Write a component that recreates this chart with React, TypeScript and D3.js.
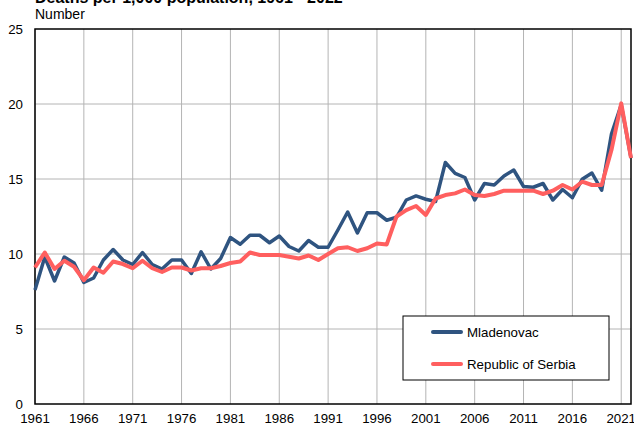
import React from "react";
import * as d3 from "d3";

const years: number[] = d3.range(1961, 2023);
const mladenovac: number[] = [
  7.6, 9.8, 8.2, 9.8, 9.4, 8.1, 8.4, 9.6, 10.3, 9.6,
  9.3, 10.1, 9.3, 9.0, 9.6, 9.6, 8.7, 10.15, 9.0, 9.7,
  11.1, 10.65, 11.25, 11.25, 10.75, 11.2, 10.5, 10.2, 10.9, 10.45,
  10.45, 11.6, 12.8, 11.4, 12.75, 12.75, 12.25, 12.45, 13.6, 13.87,
  13.65, 13.5, 16.1, 15.38, 15.1, 13.6, 14.7, 14.6, 15.2, 15.6,
  14.5, 14.45, 14.7, 13.6, 14.3, 13.75, 14.98, 15.4, 14.25, 18.0,
  19.95, 16.4,
];
const serbia: number[] = [
  9.1, 10.1, 9.0, 9.55, 9.15, 8.25, 9.1, 8.75, 9.5, 9.33,
  9.05, 9.55, 9.05, 8.8, 9.1, 9.1, 8.9, 9.05, 9.05, 9.2,
  9.4, 9.5, 10.1, 9.93, 9.93, 9.93, 9.82, 9.7, 9.9, 9.6,
  10.0, 10.38, 10.45, 10.2, 10.38, 10.7, 10.64, 12.5, 12.93, 13.2,
  12.6, 13.7, 13.93, 14.04, 14.3, 13.93, 13.87, 14.0, 14.22, 14.22,
  14.22, 14.22, 14.0, 14.22, 14.6, 14.3, 14.82, 14.6, 14.6, 16.93,
  20.04, 16.4,
];
const xTicks: number[] = d3.range(1961, 2022, 5);
const yTicks: number[] = [0, 5, 10, 15, 20, 25];
const seriesNames: string[] = ["Mladenovac", "Republic of Serbia"];
const seriesColors: string[] = ["#2f5480", "#ff5f5f"];

const W = 634;
const H = 428;
const M = { left: 35, right: 3, top: 29, bottom: 24 };
const FONT = "'Liberation Sans', Arial, sans-serif";

export default function App() {
  const x = d3.scaleLinear().domain([1961, 2022]).range([M.left, W - M.right]);
  const y = d3.scaleLinear().domain([0, 25]).range([H - M.bottom, M.top]);
  const line = d3
    .line<number>()
    .x((_, i) => x(years[i]))
    .y((d) => y(d));
  const series = [mladenovac, serbia];
  const lx = 403, ly = 316, lw = 206, lh = 64;
  return (
    <svg
      width={W}
      height={H}
      style={{ position: "absolute", left: 0, top: 0, background: "#fff" }}
      fontFamily={FONT}
    >
      <rect x={0} y={0} width={W} height={H} fill="#fff" />
      <text x={35} y={3} fontSize={16} fontWeight="bold" fill="#000">
        Deaths per 1,000 population, 1961 - 2022
      </text>
      <text x={35} y={19} fontSize={14} fill="#000">
        Number
      </text>
      {xTicks.map((t) => (
        <line key={"vx" + t} x1={x(t)} x2={x(t)} y1={y(25)} y2={y(0)} stroke="#b4b4b4" strokeWidth={1} />
      ))}
      {yTicks.slice(1, -1).map((t) => (
        <line key={"hy" + t} x1={x(1961)} x2={x(2022)} y1={y(t)} y2={y(t)} stroke="#b4b4b4" strokeWidth={1} />
      ))}
      <rect
        x={x(1961)}
        y={y(25)}
        width={x(2022) - x(1961)}
        height={y(0) - y(25)}
        fill="none"
        stroke="#000"
        strokeWidth={1.5}
      />
      {yTicks.map((t) => (
        <text key={"yl" + t} x={23} y={y(t) + 4.5} fontSize={13.3} textAnchor="end" fill="#000">
          {t}
        </text>
      ))}
      {xTicks.map((t) => (
        <text key={"xl" + t} x={x(t)} y={423} fontSize={13.3} textAnchor="middle" fill="#000">
          {t}
        </text>
      ))}
      {series.map((s, i) => (
        <path
          key={"s" + i}
          d={line(s) || ""}
          fill="none"
          stroke={seriesColors[i]}
          strokeWidth={i === 0 ? 3.5 : 4}
          strokeLinejoin="round"
        />
      ))}
      <rect x={lx} y={ly} width={lw} height={lh} fill="#fff" stroke="#000" strokeWidth={1} />
      {seriesNames.map((n, i) => (
        <g key={"lg" + i}>
          <line
            x1={lx + 30}
            x2={lx + 58}
            y1={ly + 16 + i * 32}
            y2={ly + 16 + i * 32}
            stroke={seriesColors[i]}
            strokeWidth={4}
            strokeLinecap="round"
          />
          <text x={lx + 64} y={ly + 21 + i * 32} fontSize={13.3} fill="#000">
            {n}
          </text>
        </g>
      ))}
    </svg>
  );
}
